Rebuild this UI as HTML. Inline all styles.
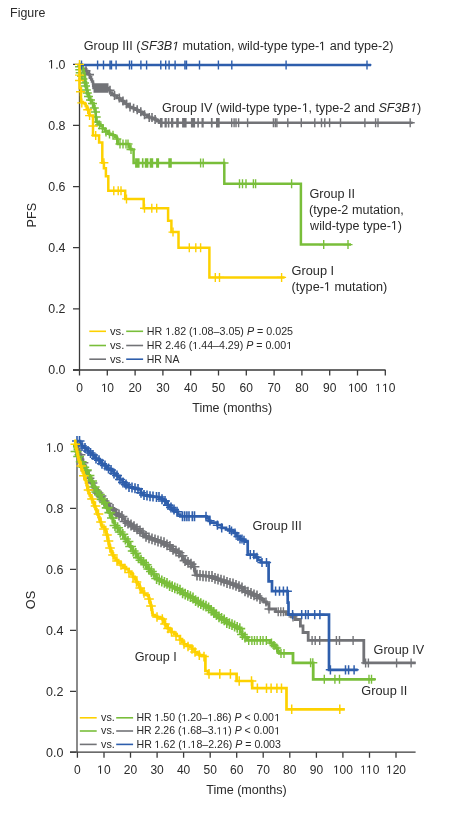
<!DOCTYPE html>
<html><head><meta charset="utf-8"><title>Figure</title>
<style>
html,body{margin:0;padding:0;background:#fff;}
body{width:461px;height:820px;overflow:hidden;font-family:"Liberation Sans",sans-serif;}
svg{display:block;will-change:transform;}
</style></head>
<body>
<svg width="461" height="820" viewBox="0 0 461 820" font-family="Liberation Sans, sans-serif">
<rect width="461" height="820" fill="#fff"/>
<g>
<g stroke="#3a3a3a" stroke-width="1.3" fill="none">
<path d="M79.5 64.3V370.6M73 370H385.6"/>
<path d="M79.5 370v5.6M107.3 370v5.6M135.1 370v5.6M162.9 370v5.6M190.7 370v5.6M218.5 370v5.6M246.3 370v5.6M274.1 370v5.6M301.9 370v5.6M329.7 370v5.6M357.5 370v5.6M385.3 370v5.6M73 370H79.5M73 308.9H79.5M73 247.7H79.5M73 186.6H79.5M73 125.4H79.5M73 64.3H79.5"/>
</g>
<path d="M79.5 64.5H81.5V66.5H82.8V68.8H85.7V70.7H87.2V72.7H88.7V74.6H89.9V77H91.1V79.5H92V81.5H93V83.4H93.2V85.7H93.5V88H107.2H108.7V90.2H110.1V92.5H112V94H114V95.5H117V98H119.5V99.5H121.9V101H123.8V102.5H125.8V104H127.8V105.5H129.7V106.9H132.6V108.3H135.5V109.8H137.5V110.8H139.5V111.8H141.9V113.2H144.3V114.7H146.8V116.2H149.2V117.6H152.1V118.6H155.1V119.6H157.1V121.2H159V122.8H412.6" fill="none" stroke="#727377" stroke-width="2.5" stroke-linejoin="miter" stroke-linecap="butt"/>
<path d="M83 64.3v9M78.5 68.8h9M86 66.2v9M81.5 70.7h9M89.5 70.1v9M85 74.6h9M110 85.8v9M105.5 90.2h9M114.5 91v9M110 95.5h9M119.3 93.5v9M114.8 98h9M123 96.5v9M118.5 101h9M126.5 99.5v9M122 104h9M130 102.4v9M125.5 106.9h9M133.6 103.8v9M129.1 108.3h9M137.2 105.3v9M132.7 109.8h9M140.8 107.3v9M136.3 111.8h9M144.5 110.2v9M140 114.7h9M149.2 113.1v9M144.7 117.6h9M152 113.1v9M147.5 117.6h9M155.1 115.1v9M150.6 119.6h9" stroke="#727377" stroke-width="1.6" fill="none"/>
<path d="M93.5 83.2h15v9.6h-15zM160 118h2.6v9.6h-2.6zM164.5 118h2.3v9.6h-2.3zM167.8 118h1.6v9.6h-1.6zM171 118h2.3v9.6h-2.3zM176.2 118h2.6v9.6h-2.6zM182.1 118h4.5v9.6h-4.5zM190.9 118h4.2v9.6h-4.2zM197.3 118h1.6v9.6h-1.6zM201.5 118h2.2v9.6h-2.2zM210.9 118h1.7v9.6h-1.7zM216 118h3.7v9.6h-3.7z" fill="#727377"/>
<path d="M231.7 118.3v9M227.2 122.8h9M234.1 118.3v9M229.6 122.8h9M236 118.3v9M231.5 122.8h9M238.6 118.3v9M234.1 122.8h9M247.6 118.3v9M243.1 122.8h9M273.4 118.3v9M268.9 122.8h9M275.3 118.3v9M270.8 122.8h9M276.9 118.3v9M272.4 122.8h9M287.8 118.3v9M283.3 122.8h9M301.3 118.3v9M296.8 122.8h9M314.8 118.3v9M310.3 122.8h9M321.5 118.3v9M317 122.8h9M324.8 118.3v9M320.3 122.8h9M329.6 118.3v9M325.1 122.8h9M340.5 118.3v9M336 122.8h9M364.9 118.3v9M360.4 122.8h9M375.6 118.3v9M371.1 122.8h9M378 118.3v9M373.5 122.8h9M410.2 118.3v9M405.7 122.8h9" stroke="#727377" stroke-width="1.4" fill="none"/>
<path d="M79.5 64.5H80.9V66H82V68H83V70H83.8V73H84.5V76H85V79H85.4V82H86V85H86.5V88H87.1V91H87.7V94H89V97H90.3V100H91.9V103H93.6V106H94.5V109H95.5V112H95.7V114.5H95.8V116.9H96V119.3H96.2V121.8H98.3V123.9H100.5V126.1H102.7V128.6H104.8V131H108.1V133.7H110.5V134.5H113V135.3H114.9V136.7H116.8V138H117.3V141H117.9V144H128.7H129.2V146.4H129.8V148.9H131.7V149.4H133.6V150V163H224.3V183.7H300.9V244.6H351" fill="none" stroke="#79BE3A" stroke-width="2.5" stroke-linejoin="miter" stroke-linecap="butt"/>
<path d="M79.5 62.3v9M75 66.8h9M79.8 65.3v9M75.3 69.8h9M80.2 68.2v9M75.7 72.7h9M81.5 71.5v9M77 76h9M83 74.5v9M78.5 79h9M84.5 78.5v9M80 83h9M85.5 81.5v9M81 86h9M86.3 85.5v9M81.8 90h9M87.3 88.5v9M82.8 93h9M88.5 92v9M84 96.5h9M90.5 95.5v9M86 100h9M92.5 99v9M88 103.5h9M94.3 103.5v9M89.8 108h9M95.5 107.5v9M91 112h9M96.2 112.5v9M91.7 117h9M97 117.5v9M92.5 122h9M99.5 120.5v9M95 125h9M102.5 124v9M98 128.5h9M106 127.5v9M101.5 132h9M109.5 129.5v9M105 134h9M113 130.8v9M108.5 135.3h9M116.8 134.5v9M112.3 139h9M120 139.5v9M115.5 144h9M123 139.5v9M118.5 144h9M126 139.5v9M121.5 144h9M128 139.5v9M123.5 144h9M131 145v9M126.5 149.5h9" stroke="#79BE3A" stroke-width="1.4" fill="none"/>
<path d="M135.1 158.3h4.5v9.4h-4.5zM141.9 158.3h1.6v9.4h-1.6zM144.8 158.3h3.6v9.4h-3.6zM149.7 158.3h3.5v9.4h-3.5zM156.1 158.3h3v9.4h-3zM168.3 158.3h3.5v9.4h-3.5z" fill="#79BE3A"/>
<path d="M200.6 158.5v9M196.1 163h9M203.2 158.5v9M198.7 163h9M224 158.5v9M219.5 163h9M239.5 179.2v9M235 183.7h9M242.5 179.2v9M238 183.7h9M246 179.2v9M241.5 183.7h9M253.4 179.2v9M248.9 183.7h9M255.6 179.2v9M251.1 183.7h9M291.6 179.2v9M287.1 183.7h9M323.7 240.1v9M319.2 244.6h9M348 240.1v9M343.5 244.6h9" stroke="#79BE3A" stroke-width="1.4" fill="none"/>
<path d="M79.5 64.9H371" fill="none" stroke="#2E5EAC" stroke-width="2.5" stroke-linejoin="miter" stroke-linecap="butt"/>
<path d="M81.5 60.4v9M77 64.9h9M97.6 60.4v9M93.1 64.9h9M103.5 60.4v9M99 64.9h9M110 60.4v9M105.5 64.9h9M111.5 60.4v9M107 64.9h9M116.1 60.4v9M111.6 64.9h9M129.5 60.4v9M125 64.9h9M131.6 60.4v9M127.1 64.9h9M140.9 60.4v9M136.4 64.9h9M146.6 60.4v9M142.1 64.9h9M160.8 60.4v9M156.3 64.9h9M165.7 60.4v9M161.2 64.9h9M169.1 60.4v9M164.6 64.9h9M175.1 60.4v9M170.6 64.9h9M184.9 60.4v9M180.4 64.9h9M186.5 60.4v9M182 64.9h9M199.5 60.4v9M195 64.9h9M218.4 60.4v9M213.9 64.9h9M231.8 60.4v9M227.3 64.9h9M286.1 60.4v9M281.6 64.9h9M367 60.4v9M362.5 64.9h9" stroke="#2E5EAC" stroke-width="1.4" fill="none"/>
<path d="M79.5 64.5V88.3H81V102H82.9V103H84.8V103.9H85.7V105.9H86.7V107.8H87.7V109.8H89.1V111.7H89.3V113.7H89.6V115.6H93V116.6V135.4H99.1V142.5H102.3V162.8H103.9V168.3H105.9V176.2H108.3V190.8H125.2V198.9H143.7V208.3H168.1V220.7H171.4V232.1H178.5V247.7H209.4V277.4H284.6" fill="none" stroke="#FDD100" stroke-width="2.5" stroke-linejoin="miter" stroke-linecap="butt"/>
<path d="M79.5 59.9v9M75 64.4h9M79.5 70.6v9M75 75.1h9M79.5 76v9M75 80.5h9M80.5 87.2v9M76 91.7h9M81.8 98.4v9M77.3 102.9h9M87.7 105.3v9M83.2 109.8h9M89.6 111.1v9M85.1 115.6h9M93 121.5v9M88.5 126h9M95.7 130.9v9M91.2 135.4h9M103.9 158.3v9M99.4 162.8h9" stroke="#FDD100" stroke-width="1.4" fill="none"/>
<path d="M113.8 186.3v9M109.3 190.8h9M118.2 186.3v9M113.7 190.8h9M121 186.3v9M116.5 190.8h9M126.5 194.4v9M122 198.9h9M144.5 203.8v9M140 208.3h9M151.8 203.8v9M147.3 208.3h9M156.7 203.8v9M152.2 208.3h9M173 227.6v9M168.5 232.1h9M189.3 243.2v9M184.8 247.7h9M195.8 243.2v9M191.3 247.7h9M200.6 243.2v9M196.1 247.7h9M215.3 272.9v9M210.8 277.4h9M219.5 272.9v9M215 277.4h9M281.6 272.9v9M277.1 277.4h9" stroke="#FDD100" stroke-width="1.4" fill="none"/>
<g fill="#2a2a2a" font-family="Liberation Sans, sans-serif">
<text x="65.5" y="374.3" font-size="12.4" text-anchor="end">0.0</text>
<text x="65.5" y="313.2" font-size="12.4" text-anchor="end">0.2</text>
<text x="65.5" y="252" font-size="12.4" text-anchor="end">0.4</text>
<text x="65.5" y="190.9" font-size="12.4" text-anchor="end">0.6</text>
<text x="65.5" y="129.7" font-size="12.4" text-anchor="end">0.8</text>
<text x="65.5" y="68.6" font-size="12.4" text-anchor="end"> .0</text>
<text x="79.5" y="392" font-size="12" text-anchor="middle">0</text>
<text x="107.3" y="392" font-size="12" text-anchor="middle"> 0</text>
<text x="135.1" y="392" font-size="12" text-anchor="middle">20</text>
<text x="162.9" y="392" font-size="12" text-anchor="middle">30</text>
<text x="190.7" y="392" font-size="12" text-anchor="middle">40</text>
<text x="218.5" y="392" font-size="12" text-anchor="middle">50</text>
<text x="246.3" y="392" font-size="12" text-anchor="middle">60</text>
<text x="274.1" y="392" font-size="12" text-anchor="middle">70</text>
<text x="301.9" y="392" font-size="12" text-anchor="middle">80</text>
<text x="329.7" y="392" font-size="12" text-anchor="middle">90</text>
<text x="357.5" y="392" font-size="12" text-anchor="middle"> 00</text>
<text x="385.3" y="392" font-size="12" text-anchor="middle">  0</text>
<text x="0" y="0" font-size="12.6" text-anchor="middle" transform="translate(35.7 215.2) rotate(-90)">PFS</text>
</g>
<path d="M89.3 331.3H106" stroke="#FDD100" stroke-width="1.6"/>
<path d="M126.2 331.3H143.1" stroke="#79BE3A" stroke-width="1.6"/>
<path d="M89.3 345.5H106" stroke="#79BE3A" stroke-width="1.6"/>
<path d="M126.2 345.5H143.1" stroke="#727377" stroke-width="1.6"/>
<path d="M89.3 359.2H106" stroke="#727377" stroke-width="1.6"/>
<path d="M126.2 359.2H143.1" stroke="#2E5EAC" stroke-width="1.6"/>
<path d="M77 447V752.2" stroke="#8a8a8a" stroke-width="2" fill="none"/>
<g stroke="#3a3a3a" stroke-width="1.3" fill="none">
<path d="M70 752.2H415.6"/>
<path d="M77.4 752.2v5.5M104 752.2v5.5M130.5 752.2v5.5M157.1 752.2v5.5M183.6 752.2v5.5M210.2 752.2v5.5M236.7 752.2v5.5M263.2 752.2v5.5M289.8 752.2v5.5M316.4 752.2v5.5M342.9 752.2v5.5M369.5 752.2v5.5M396 752.2v5.5M70 752.2H76M70 691.3H76M70 630.3H76M70 569.4H76M70 508.4H76"/>
</g>
<path d="M76 442H76.8V444.5H77.5V447H78.2V449.5H79V452H80V454.7H81V457.3H82V460H83V462.7H84V465.3H85V468H86V470.7H87V473.3H88V476H89V478.3H90V480.7H91V483H92.3V485.3H93.7V487.7H95V490H97V493H99V496H101.5V498.5H104V501H106V503.5H108V506H110V507.8H112V509.5H114V511.5H116V513.5H118V515H120V516.5H122.5V519H125V521.5H127.6V523.2H130.2V525H132.8V526.7H135.4V528.9H138V531H140.6V533.2H143.2V534.7H145.8V536.3H148.4V537.8H151V538.9H153.7V539.9H156.3V541H158.9V541.9H161.5V542.7H164.1V543.6H166.3V544.9H168.4V546.3H170.6V547.6H172.8V549.3H174.9V551.1H177.1V552.8H179.8V555.8H182.6V558.9H184.8V560.6H186.9V562.4H189.1V564.1H191.7V566.7H194.3V569.3H194.9V572.2H195.6V575.2H198V575.4H200.4V575.6H202.8V575.9H205.2V576.1H207.6V576.3H210V576.5H212.4V577.4H214.8V578.3H217.2V579.2H219.6V580.1H222V581H224.4V581.8H226.8V582.5H229.1V583.2H231.5V584H234.3V585.3H237.2V586.7H240V588H242.2V589.4H244.5V590.8H246.8V592.1H249V593.5H251.8V594.8H254.5V596H257.2V597.2H260V598.5H262V600.2H264V602H266.5V604H269V606.5V609H275.6V611.7H286V614.3H291.3V616.9H295.2V619.5H300.4V626H303V632.5H308.2V640.4H363.8V662.9H415.7" fill="none" stroke="#727377" stroke-width="2.8" stroke-linejoin="miter" stroke-linecap="butt"/>
<path d="M80 449.3v10.8M74.6 454.7h10.8M83 457.3v10.8M77.6 462.7h10.8M86 465.3v10.8M80.6 470.7h10.8M89 472.9v10.8M83.6 478.3h10.8M92 477.6v10.8M86.6 483h10.8M95 484.6v10.8M89.6 490h10.8M98 487.6v10.8M92.6 493h10.8M101 490.6v10.8M95.6 496h10.8M104 495.6v10.8M98.6 501h10.8M107 498.1v10.8M101.6 503.5h10.8M110 502.4v10.8M104.6 507.8h10.8M113 504.1v10.8M107.6 509.5h10.8M116 508.1v10.8M110.6 513.5h10.8M119 509.6v10.8M113.6 515h10.8M122 511.1v10.8M116.6 516.5h10.8M125 516.1v10.8M119.6 521.5h10.8M128 517.8v10.8M122.6 523.2h10.8M131 519.6v10.8M125.6 525h10.8M134 521.3v10.8M128.6 526.7h10.8M137 523.5v10.8M131.6 528.9h10.8M140 525.6v10.8M134.6 531h10.8M143 527.8v10.8M137.6 533.2h10.8M146 530.9v10.8M140.6 536.3h10.8M149 532.4v10.8M143.6 537.8h10.8M152 533.5v10.8M146.6 538.9h10.8M155 534.5v10.8M149.6 539.9h10.8M158 535.6v10.8M152.6 541h10.8M161 536.5v10.8M155.6 541.9h10.8M164 537.3v10.8M158.6 542.7h10.8M167 539.5v10.8M161.6 544.9h10.8M170 540.9v10.8M164.6 546.3h10.8M173 543.9v10.8M167.6 549.3h10.8M176 545.7v10.8M170.6 551.1h10.8M179 547.4v10.8M173.6 552.8h10.8M182 550.4v10.8M176.6 555.8h10.8M185 555.2v10.8M179.6 560.6h10.8M188 557v10.8M182.6 562.4h10.8M191 558.7v10.8M185.6 564.1h10.8M194 561.3v10.8M188.6 566.7h10.8M197 569.8v10.8M191.6 575.2h10.8M200 570v10.8M194.6 575.4h10.8M203 570.5v10.8M197.6 575.9h10.8M206 570.7v10.8M200.6 576.1h10.8M209 570.9v10.8M203.6 576.3h10.8M212 571.1v10.8M206.6 576.5h10.8M215 572.9v10.8M209.6 578.3h10.8M218 573.8v10.8M212.6 579.2h10.8M221 574.7v10.8M215.6 580.1h10.8M224 575.6v10.8M218.6 581h10.8M227 577.1v10.8M221.6 582.5h10.8M230 577.9v10.8M224.6 583.2h10.8M233 578.6v10.8M227.6 584h10.8M236 579.9v10.8M230.6 585.3h10.8M239 581.3v10.8M233.6 586.7h10.8M242 582.6v10.8M236.6 588h10.8M245 585.4v10.8M239.6 590.8h10.8M248 586.7v10.8M242.6 592.1h10.8M251 588.1v10.8M245.6 593.5h10.8M254 589.4v10.8M248.6 594.8h10.8M257 590.6v10.8M251.6 596h10.8M260 593.1v10.8M254.6 598.5h10.8" stroke="#727377" stroke-width="1.6" fill="none"/>
<path d="M266 597.5v9M261.5 602h9M269 604.5v9M264.5 609h9M278.2 607.2v9M273.7 611.7h9M280.8 607.2v9M276.3 611.7h9M283.4 607.2v9M278.9 611.7h9M293 612.4v9M288.5 616.9h9M312.1 635.9v9M307.6 640.4h9M315.2 635.9v9M310.7 640.4h9M319.7 635.9v9M315.2 640.4h9M336.4 635.9v9M331.9 640.4h9M339.5 635.9v9M335 640.4h9M353.1 635.9v9M348.6 640.4h9M365.6 658.4v9M361.1 662.9h9M368.4 658.4v9M363.9 662.9h9M396.6 658.4v9M392.1 662.9h9M411.1 658.4v9M406.6 662.9h9" stroke="#727377" stroke-width="1.4" fill="none"/>
<path d="M73 446H75V449H76V451.5H77V454H78V456.5H79V459H80.5V461.8H82V464.5H83.8V467.2H85.5V470H87V472.8H88.5V475.5H89.8V478.2H91V481H92.5V484H94V487H95.3V489.5H96.7V492H98V494.5H99.8V497H101.7V499.5H103.3V502.5H105V505.5H106.2V507.9H107.5V510.2H108.8V512.6H110V515H111.5V518H113V521H114V523.2H115V525.5H116V527.7H118V529.9H120V532H121.7V534.3H123.3V536.7H125V539H126.7V541.5H128.3V544H130V546.5H131.5V548.8H133V551H134.5V553.2H136V555.5H138V557.8H140V560.2H142V562.5H144.2V564.7H146.3V566.8H148.5V569H150.2V571.5H152V574H154.2V576.2H156.5V578.5H158.7V579.8H160.8V581H163V582.3H165.2V583.4H167.3V584.5H169.5V585.6H171.7V586.7H173.8V587.8H176V588.9H178.2V590.2H180.4V591.5H182.6V592.8H184.8V594.1H186.9V595.4H189.1V596.7H191.3V598H193.4V599.3H195.6V600.6H197.8V602.1H199.9V603.6H202.1V605.1H204.3V606.1H206.4V607H208.6V608H210.8V610.2H213V612.5H215.5V614.7H218V616.9H220.2V618.4H222.3V619.9H224.5V621.4H226.7V622.5H228.8V623.6H231V624.7H233.2V626H235.4V627.3H237.6V628.6H240.2V631.9H242.1V634.5H244.1V637.1H246.7V640.4H268.9H270.2V643H273.1V645.5H276V648H278V651.5H279.3V653.4H293V662.8H313.2V679.3H375.5" fill="none" stroke="#79BE3A" stroke-width="2.8" stroke-linejoin="miter" stroke-linecap="butt"/>
<path d="M76 446.1v10.8M70.6 451.5h10.8M78.6 451.1v10.8M73.2 456.5h10.8M81.2 456.4v10.8M75.8 461.8h10.8M83.8 461.9v10.8M78.4 467.2h10.8M86.4 464.6v10.8M81 470h10.8M89 470.1v10.8M83.6 475.5h10.8M91.6 475.6v10.8M86.2 481h10.8M94.2 481.6v10.8M88.8 487h10.8M96.8 486.6v10.8M91.4 492h10.8M99.4 489.1v10.8M94 494.5h10.8M102 494.1v10.8M96.6 499.5h10.8M104.6 497.1v10.8M99.2 502.5h10.8M107.2 502.5v10.8M101.8 507.9h10.8M109.8 507.2v10.8M104.4 512.6h10.8M112.4 512.6v10.8M107 518h10.8M115 520.1v10.8M109.6 525.5h10.8M117.6 522.3v10.8M112.2 527.7h10.8M120.2 526.6v10.8M114.8 532h10.8M122.8 528.9v10.8M117.4 534.3h10.8M125.4 533.6v10.8M120 539h10.8M128 536.1v10.8M122.6 541.5h10.8M130.6 541.1v10.8M125.2 546.5h10.8M133.2 545.6v10.8M127.8 551h10.8M135.8 547.9v10.8M130.4 553.2h10.8M138.4 552.4v10.8M133 557.8h10.8M141 554.8v10.8M135.6 560.2h10.8M143.6 557.1v10.8M138.2 562.5h10.8M146.2 559.3v10.8M140.8 564.7h10.8M148.8 563.6v10.8M143.4 569h10.8M151.4 566.1v10.8M146 571.5h10.8M154 568.6v10.8M148.6 574h10.8M156.6 573.1v10.8M151.2 578.5h10.8M159.2 574.4v10.8M153.8 579.8h10.8M161.8 575.6v10.8M156.4 581h10.8M164.4 576.9v10.8M159 582.3h10.8M167 578v10.8M161.6 583.4h10.8M169.6 580.2v10.8M164.2 585.6h10.8M172.2 581.3v10.8M166.8 586.7h10.8M174.8 582.4v10.8M169.4 587.8h10.8M177.4 583.5v10.8M172 588.9h10.8M180 584.8v10.8M174.6 590.2h10.8M182.6 587.4v10.8M177.2 592.8h10.8M185.2 588.7v10.8M179.8 594.1h10.8M187.8 590v10.8M182.4 595.4h10.8M190.4 591.3v10.8M185 596.7h10.8M193 592.6v10.8M187.6 598h10.8M195.6 595.2v10.8M190.2 600.6h10.8M198.2 596.7v10.8M192.8 602.1h10.8M200.8 598.2v10.8M195.4 603.6h10.8M203.4 599.7v10.8M198 605.1h10.8M206 600.7v10.8M200.6 606.1h10.8M208.6 602.6v10.8M203.2 608h10.8M211.2 604.9v10.8M205.8 610.2h10.8M213.8 607.1v10.8M208.4 612.5h10.8M216.4 609.3v10.8M211 614.7h10.8M219 611.5v10.8M213.6 616.9h10.8M221.6 613v10.8M216.2 618.4h10.8M224.2 614.5v10.8M218.8 619.9h10.8M226.8 617.1v10.8M221.4 622.5h10.8M229.4 618.2v10.8M224 623.6h10.8M232 619.3v10.8M226.6 624.7h10.8M234.6 620.6v10.8M229.2 626h10.8M237.2 621.9v10.8M231.8 627.3h10.8M239.8 623.2v10.8M234.4 628.6h10.8M242.4 629.1v10.8M237 634.5h10.8M245 631.7v10.8M239.6 637.1h10.8" stroke="#79BE3A" stroke-width="1.6" fill="none"/>
<path d="M248.7 635.9v9M244.2 640.4h9M251.9 635.9v9M247.4 640.4h9M254.5 635.9v9M250 640.4h9M257.1 635.9v9M252.6 640.4h9M260.4 635.9v9M255.9 640.4h9M263 635.9v9M258.5 640.4h9M266.3 635.9v9M261.8 640.4h9M271.5 638.5v9M267 643h9M274 641v9M269.5 645.5h9M276.7 643.5v9M272.2 648h9M281 648.9v9M276.5 653.4h9M284 648.9v9M279.5 653.4h9M310.6 658.3v9M306.1 662.8h9M312.8 658.3v9M308.3 662.8h9M324.3 674.8v9M319.8 679.3h9M334.9 674.8v9M330.4 679.3h9M339.5 674.8v9M335 679.3h9M369 674.8v9M364.5 679.3h9M371.5 674.8v9M367 679.3h9" stroke="#79BE3A" stroke-width="1.4" fill="none"/>
<path d="M76.5 441H80V444H82V446H84V448H86V449.5H88V451H90V453H92V455H94V456.8H96V458.5H98V460.2H100V462H102V463.8H104V465.5H106V467H108V468.5H110V470H112V471.5H114V473.5H116V475.5H118V477.5H120V479.5H122.6V482.4H125.2V484.6H127.8V486.9H130.4V487.5H133V488.2H135.6V488.9H138.2V489.5H140.8V492.8H143.4V495H145.6V495.4H147.8V495.9H150V496.3H152.2V496.5H154.3V496.8H156.5V497H159.1V498.1H161.7V499.3H163.6V501H165.6V502.6H167.6V505.1H169.5V507.5H172.1V509.6H174.7V511.7H178V514.5H180.4V516.3H206.5V518.2H208.7V520.8H210.4V522.6H217.4V525.2H221.7V527.8H226V529.5H230.4V531H232H233.8V533H236.5V536.5H240V539H242.6V540.4H245.1V541.7H247.7V554.7H253.8H255.5V557.3H258.1V560H260.8V562.5H268.6V581.3H272V591.2H287.7V602.6H288.5V614.6H329V669.8H357.7" fill="none" stroke="#2E5EAC" stroke-width="2.7" stroke-linejoin="miter" stroke-linecap="butt"/>
<path d="M77 436v10M72 441h10M79.5 436v10M74.5 441h10M82 441v10M77 446h10M85 443v10M80 448h10M88 446v10M83 451h10M90.5 448v10M85.5 453h10M93 450v10M88 455h10M96 453.5v10M91 458.5h10M99 455.2v10M94 460.2h10M102 458.8v10M97 463.8h10M105 460.5v10M100 465.5h10M108.5 463.5v10M103.5 468.5h10M111 465v10M106 470h10M114 468.5v10M109 473.5h10M117 470.5v10M112 475.5h10M120 474.5v10M115 479.5h10M123 477.4v10M118 482.4h10M126 479.6v10M121 484.6h10M129 481.9v10M124 486.9h10M132 482.5v10M127 487.5h10M135 483.2v10M130 488.2h10M138 483.9v10M133 488.9h10M141 487.8v10M136 492.8h10M144 490v10M139 495h10M147 490.4v10M142 495.4h10M150 491.3v10M145 496.3h10M153 491.5v10M148 496.5h10M156.5 492v10M151.5 497h10M159 492v10M154 497h10M162 494.3v10M157 499.3h10M165 496v10M160 501h10M168 500.1v10M163 505.1h10M171 502.5v10M166 507.5h10M174 504.6v10M169 509.6h10M177 506.7v10M172 511.7h10M182.5 511.3v10M177.5 516.3h10M184.7 511.3v10M179.7 516.3h10M186.9 511.3v10M181.9 516.3h10M189 511.3v10M184 516.3h10M192.3 511.3v10M187.3 516.3h10M194.5 511.3v10M189.5 516.3h10" stroke="#2E5EAC" stroke-width="1.6" fill="none"/>
<path d="M206 511.7v9.2M201.4 516.3h9.2M210 516.2v9.2M205.4 520.8h9.2M217.4 520.6v9.2M212.8 525.2h9.2M221.7 523.2v9.2M217.1 527.8h9.2M229.5 524.9v9.2M224.9 529.5h9.2M231.5 526.4v9.2M226.9 531h9.2M235 528.4v9.2M230.4 533h9.2M238 531.9v9.2M233.4 536.5h9.2M240 534.4v9.2M235.4 539h9.2M242 534.4v9.2M237.4 539h9.2M244 535.8v9.2M239.4 540.4h9.2M250.3 550.1v9.2M245.7 554.7h9.2M253.8 550.1v9.2M249.2 554.7h9.2M257 552.7v9.2M252.4 557.3h9.2M262 557.9v9.2M257.4 562.5h9.2M266.5 557.9v9.2M261.9 562.5h9.2M275.6 586.6v9.2M271 591.2h9.2M279.5 586.6v9.2M274.9 591.2h9.2M283.4 586.6v9.2M278.8 591.2h9.2M287.3 586.6v9.2M282.7 591.2h9.2M292.6 610v9.2M288 614.6h9.2M301.7 610v9.2M297.1 614.6h9.2M305.6 610v9.2M301 614.6h9.2M308.2 610v9.2M303.6 614.6h9.2M314.7 610v9.2M310.1 614.6h9.2M319.9 610v9.2M315.3 614.6h9.2M330.4 665.2v9.2M325.8 669.8h9.2M345.5 665.2v9.2M340.9 669.8h9.2M348.6 665.2v9.2M344 669.8h9.2M354.1 665.2v9.2M349.5 669.8h9.2" stroke="#2E5EAC" stroke-width="1.5" fill="none"/>
<path d="M74 441H75.3V444.3H75.9V446.9H76.4V449.4H77V452H77.5V454.5H78V457H78.5V459.5H79.2V461.7H79.8V463.8H80.5V466H81.3V468.2H82V470.3H82.8V472.5H83.7V475.2H84.5V478H85.4V480H86V482.6H86.6V485.2H87.3V487.8H87.9V490.4H88.5V493H89.7V495.3H90.8V497.7H92V500H92.9V502.2H93.8V504.5H94.6V506.8H95.5V509H96.5V511.7H97.5V514.3H98.5V517H99.4V519.5H100.2V522H101.1V524.5H102V527H105.2V530H105.9V532.2H106.5V534.3H107.2V536.5H107.7V538.8H108.2V541H108.6V543.3H109.1V545.6H110V548.2H110.8V550.8H111.7V553.4H113V555.6H114.3V557.8H115.6V560H118.2V562.6H120.8V565.2H123.4V567.2H126V569.1H128.7V571.7H131.3V574.3H133V576.9H134.8V579.5H136.5V582.1H137.7V584.4H139V586.8H140.2V589.1H142.1V591.7H144.1V594.3H146.1V595H148V595.6H148.7V598.2H149.3V600.8H150V603H150.6V605.1H151.3V607.3H151.7V609.9H152.2V612.6H152.6V615.2H154.8V616.2H157.1V617.1H159.7V618.1H162.3V619.1H163.7V621.7H165V624.3H166.3V626.2H167.6V628.2H169.6V630.2H171.5V632.1H174.1V634H176.7V636H179.9V639.2H182V641.8H184.1V644.4H187.1V645.5H190.2V646.7H192.4V649.4H194.7V652H197V653.5H199.3V655.1H202.4V655.9H205.4V656.6V671H208V673.9H236.6V681H252.2V688.2H286.5V709.3H344.8" fill="none" stroke="#FDD100" stroke-width="2.7" stroke-linejoin="miter" stroke-linecap="butt"/>
<path d="M75.3 439.5v9.6M70.5 444.3h9.6M81.2 461.2v9.6M76.4 466h9.6M83.9 471v9.6M79.1 475.8h9.6M88.5 485.2v9.6M83.7 490h9.6M92 494.2v9.6M87.2 499h9.6M95.5 501.2v9.6M90.7 506h9.6M98.5 509.2v9.6M93.7 514h9.6M101 517.2v9.6M96.2 522h9.6M104 524.2v9.6M99.2 529h9.6M107 530.2v9.6M102.2 535h9.6M108.5 536.2v9.6M103.7 541h9.6M110 543.2v9.6M105.2 548h9.6M113 550.2v9.6M108.2 555h9.6M117 556.2v9.6M112.2 561h9.6M121 560.2v9.6M116.2 565h9.6M125 563.7v9.6M120.2 568.5h9.6M129 567.7v9.6M124.2 572.5h9.6M133 572.2v9.6M128.2 577h9.6M136.5 577.2v9.6M131.7 582h9.6M140.2 583.2v9.6M135.4 588h9.6M144 588.2v9.6M139.2 593h9.6M149 594.2v9.6M144.2 599h9.6M151 601.2v9.6M146.2 606h9.6M157 612.2v9.6M152.2 617h9.6M162.3 614.3v9.6M157.5 619.1h9.6M165 619.2v9.6M160.2 624h9.6M168 623.7v9.6M163.2 628.5h9.6M171.5 627.2v9.6M166.7 632h9.6M176 631.2v9.6M171.2 636h9.6M180 635.2v9.6M175.2 640h9.6M184 639.2v9.6M179.2 644h9.6M188 641.7v9.6M183.2 646.5h9.6M192 644.2v9.6M187.2 649h9.6M195 647.2v9.6M190.2 652h9.6M199.3 650.3v9.6M194.5 655.1h9.6M204 651.8v9.6M199.2 656.6h9.6M209 669.1v9.6M204.2 673.9h9.6M219.8 669.1v9.6M215 673.9h9.6M230.4 669.1v9.6M225.6 673.9h9.6M239.2 676.2v9.6M234.4 681h9.6M251.5 676.2v9.6M246.7 681h9.6M257.4 683.4v9.6M252.6 688.2h9.6M266.5 683.4v9.6M261.7 688.2h9.6M271.1 683.4v9.6M266.3 688.2h9.6M276.9 683.4v9.6M272.1 688.2h9.6M281.5 683.4v9.6M276.7 688.2h9.6M291.7 704.5v9.6M286.9 709.3h9.6M339.8 704.5v9.6M335 709.3h9.6" stroke="#FDD100" stroke-width="1.5" fill="none"/>
<g fill="#2a2a2a" font-family="Liberation Sans, sans-serif">
<text x="63.4" y="756.6" font-size="12.5" text-anchor="end">0.0</text>
<text x="63.4" y="695.7" font-size="12.5" text-anchor="end">0.2</text>
<text x="63.4" y="634.7" font-size="12.5" text-anchor="end">0.4</text>
<text x="63.4" y="573.8" font-size="12.5" text-anchor="end">0.6</text>
<text x="63.4" y="512.8" font-size="12.5" text-anchor="end">0.8</text>
<text x="63.4" y="451.9" font-size="12.5" text-anchor="end"> .0</text>
<text x="77.4" y="773.7" font-size="12" text-anchor="middle">0</text>
<text x="104" y="773.7" font-size="12" text-anchor="middle"> 0</text>
<text x="130.5" y="773.7" font-size="12" text-anchor="middle">20</text>
<text x="157.1" y="773.7" font-size="12" text-anchor="middle">30</text>
<text x="183.6" y="773.7" font-size="12" text-anchor="middle">40</text>
<text x="210.2" y="773.7" font-size="12" text-anchor="middle">50</text>
<text x="236.7" y="773.7" font-size="12" text-anchor="middle">60</text>
<text x="263.2" y="773.7" font-size="12" text-anchor="middle">70</text>
<text x="289.8" y="773.7" font-size="12" text-anchor="middle">80</text>
<text x="316.4" y="773.7" font-size="12" text-anchor="middle">90</text>
<text x="342.9" y="773.7" font-size="12" text-anchor="middle"> 00</text>
<text x="369.5" y="773.7" font-size="12" text-anchor="middle">  0</text>
<text x="396" y="773.7" font-size="12" text-anchor="middle"> 20</text>
<text x="0" y="0" font-size="12.8" text-anchor="middle" transform="translate(35.2 599.9) rotate(-90)">OS</text>
</g>
<path d="M79.8 717.8H96.7" stroke="#FDD100" stroke-width="1.6"/>
<path d="M116.2 717.8H133.1" stroke="#79BE3A" stroke-width="1.6"/>
<path d="M79.8 731H96.7" stroke="#79BE3A" stroke-width="1.6"/>
<path d="M116.2 731H133.1" stroke="#727377" stroke-width="1.6"/>
<path d="M79.8 744.4H96.7" stroke="#727377" stroke-width="1.6"/>
<path d="M116.2 744.4H133.1" stroke="#2E5EAC" stroke-width="1.6"/>
<g fill="#2a2a2a" font-family="Liberation Sans, sans-serif">
<text x="10.1" y="16.9" font-size="12.5" text-anchor="start" textLength="35.2" lengthAdjust="spacingAndGlyphs">Figure</text>
<text x="83.8" y="50.3" font-size="12.5" text-anchor="start" textLength="309.7" lengthAdjust="spacingAndGlyphs">Group III (<tspan font-style="italic">SF3B </tspan> mutation, wild-type type-  and type-2)</text>
<text x="162" y="111.9" font-size="12.5" text-anchor="start" textLength="259.2" lengthAdjust="spacingAndGlyphs">Group IV (wild-type type- , type-2 and <tspan font-style="italic">SF3B </tspan>)</text>
<text x="309.4" y="198" font-size="12.5" text-anchor="start" textLength="45.7" lengthAdjust="spacingAndGlyphs">Group II</text>
<text x="309.1" y="213.6" font-size="12.5" text-anchor="start" textLength="94.7" lengthAdjust="spacingAndGlyphs">(type-2 mutation,</text>
<text x="310.1" y="229.7" font-size="12.5" text-anchor="start" textLength="91.9" lengthAdjust="spacingAndGlyphs">wild-type type- )</text>
<text x="291.5" y="275.1" font-size="12.5" text-anchor="start" textLength="42.6" lengthAdjust="spacingAndGlyphs">Group I</text>
<text x="291.5" y="290.8" font-size="12.5" text-anchor="start" textLength="95.8" lengthAdjust="spacingAndGlyphs">(type-  mutation)</text>
<text x="192.3" y="411.6" font-size="12.5" text-anchor="start" textLength="79.9" lengthAdjust="spacingAndGlyphs">Time (months)</text>
<text x="206.2" y="793.6" font-size="12.5" text-anchor="start" textLength="80.6" lengthAdjust="spacingAndGlyphs">Time (months)</text>
<text x="252.4" y="530.2" font-size="12.5" text-anchor="start" textLength="49.5" lengthAdjust="spacingAndGlyphs">Group III</text>
<text x="373.6" y="654.1" font-size="12.5" text-anchor="start" textLength="50.5" lengthAdjust="spacingAndGlyphs">Group IV</text>
<text x="361.3" y="694.9" font-size="12.5" text-anchor="start" textLength="46.1" lengthAdjust="spacingAndGlyphs">Group II</text>
<text x="134.7" y="660.8" font-size="12.5" text-anchor="start" textLength="42" lengthAdjust="spacingAndGlyphs">Group I</text>
<text x="146.8" y="334.9" font-size="10.3" text-anchor="start" textLength="146.3" lengthAdjust="spacingAndGlyphs">HR  .82 ( .08–3.05) <tspan font-style="italic">P</tspan> = 0.025</text>
<text x="146.8" y="349.1" font-size="10.3" text-anchor="start" textLength="145.3" lengthAdjust="spacingAndGlyphs">HR 2.46 ( .44–4.29) <tspan font-style="italic">P</tspan> = 0.00 </text>
<text x="146.8" y="362.6" font-size="10.3" text-anchor="start" textLength="32.6" lengthAdjust="spacingAndGlyphs">HR NA</text>
<text x="109.9" y="334.9" font-size="10.3" text-anchor="start" textLength="14.4" lengthAdjust="spacingAndGlyphs">vs.</text>
<text x="109.9" y="349.1" font-size="10.3" text-anchor="start" textLength="14.4" lengthAdjust="spacingAndGlyphs">vs.</text>
<text x="109.9" y="362.6" font-size="10.3" text-anchor="start" textLength="14.4" lengthAdjust="spacingAndGlyphs">vs.</text>
<text x="136.5" y="721.2" font-size="10.3" text-anchor="start" textLength="143.3" lengthAdjust="spacingAndGlyphs">HR  .50 ( .20– .86) <tspan font-style="italic">P</tspan> &lt; 0.00 </text>
<text x="136.5" y="734.4" font-size="10.3" text-anchor="start" textLength="143.5" lengthAdjust="spacingAndGlyphs">HR 2.26 ( .68–3.  ) <tspan font-style="italic">P</tspan> &lt; 0.00 </text>
<text x="136.5" y="747.9" font-size="10.3" text-anchor="start" textLength="144.4" lengthAdjust="spacingAndGlyphs">HR  .62 ( . 8–2.26) <tspan font-style="italic">P</tspan> = 0.003</text>
<text x="101" y="721.2" font-size="10.3" text-anchor="start" textLength="13.8" lengthAdjust="spacingAndGlyphs">vs.</text>
<text x="101" y="734.4" font-size="10.3" text-anchor="start" textLength="13.8" lengthAdjust="spacingAndGlyphs">vs.</text>
<text x="101" y="747.9" font-size="10.3" text-anchor="start" textLength="13.8" lengthAdjust="spacingAndGlyphs">vs.</text>
</g>
</g>
<g fill="#2a2a2a" stroke="none"><path transform="matrix(0.00606 0 0 -0.00605 47.88 68.60)" d="M515 0L515 1237L197 1010L197 1180L530 1409L696 1409L696 0Z"/><path transform="matrix(0.00587 0 0 -0.00586 100.98 392.00)" d="M515 0L515 1237L197 1010L197 1180L530 1409L696 1409L696 0Z"/><path transform="matrix(0.00587 0 0 -0.00586 347.98 392.00)" d="M515 0L515 1237L197 1010L197 1180L530 1409L696 1409L696 0Z"/><path transform="matrix(0.00509 0 0 -0.00586 375.38 392.00)" d="M515 0L515 1237L197 1010L197 1180L530 1409L696 1409L696 0Z"/><path transform="matrix(0.00587 0 0 -0.00586 381.98 392.00)" d="M515 0L515 1237L197 1010L197 1180L530 1409L696 1409L696 0Z"/><path transform="matrix(0.00610 0 0 -0.00610 45.86 451.90)" d="M515 0L515 1237L197 1010L197 1180L530 1409L696 1409L696 0Z"/><path transform="matrix(0.00587 0 0 -0.00586 96.98 773.70)" d="M515 0L515 1237L197 1010L197 1180L530 1409L696 1409L696 0Z"/><path transform="matrix(0.00587 0 0 -0.00586 332.98 773.70)" d="M515 0L515 1237L197 1010L197 1180L530 1409L696 1409L696 0Z"/><path transform="matrix(0.00509 0 0 -0.00586 360.38 773.70)" d="M515 0L515 1237L197 1010L197 1180L530 1409L696 1409L696 0Z"/><path transform="matrix(0.00587 0 0 -0.00586 365.98 773.70)" d="M515 0L515 1237L197 1010L197 1180L530 1409L696 1409L696 0Z"/><path transform="matrix(0.00587 0 0 -0.00586 385.98 773.70)" d="M515 0L515 1237L197 1010L197 1180L530 1409L696 1409L696 0Z"/><path transform="matrix(0.00617 0 0 -0.00610 172.07 50.30)" d="M412.3 0L650 1223L289 1000L324 1180L701 1409L867 1409L593.3 0Z"/><path transform="matrix(0.00617 0 0 -0.00610 318.82 50.30)" d="M515 0L515 1237L197 1010L197 1180L530 1409L696 1409L696 0Z"/><path transform="matrix(0.00617 0 0 -0.00610 301.82 111.90)" d="M515 0L515 1237L197 1010L197 1180L530 1409L696 1409L696 0Z"/><path transform="matrix(0.00617 0 0 -0.00610 409.97 111.90)" d="M412.3 0L650 1223L289 1000L324 1180L701 1409L867 1409L593.3 0Z"/><path transform="matrix(0.00613 0 0 -0.00610 390.84 229.70)" d="M515 0L515 1237L197 1010L197 1180L530 1409L696 1409L696 0Z"/><path transform="matrix(0.00620 0 0 -0.00610 323.81 290.80)" d="M515 0L515 1237L197 1010L197 1180L530 1409L696 1409L696 0Z"/><path transform="matrix(0.00525 0 0 -0.00503 165.29 334.90)" d="M515 0L515 1237L197 1010L197 1180L530 1409L696 1409L696 0Z"/><path transform="matrix(0.00524 0 0 -0.00503 192.30 334.90)" d="M515 0L515 1237L197 1010L197 1180L530 1409L696 1409L696 0Z"/><path transform="matrix(0.00520 0 0 -0.00503 192.32 349.10)" d="M515 0L515 1237L197 1010L197 1180L530 1409L696 1409L696 0Z"/><path transform="matrix(0.00522 0 0 -0.00503 286.31 349.10)" d="M515 0L515 1237L197 1010L197 1180L530 1409L696 1409L696 0Z"/><path transform="matrix(0.00515 0 0 -0.00503 154.35 721.20)" d="M515 0L515 1237L197 1010L197 1180L530 1409L696 1409L696 0Z"/><path transform="matrix(0.00513 0 0 -0.00503 181.36 721.20)" d="M515 0L515 1237L197 1010L197 1180L530 1409L696 1409L696 0Z"/><path transform="matrix(0.00513 0 0 -0.00503 207.36 721.20)" d="M515 0L515 1237L197 1010L197 1180L530 1409L696 1409L696 0Z"/><path transform="matrix(0.00515 0 0 -0.00503 274.35 721.20)" d="M515 0L515 1237L197 1010L197 1180L530 1409L696 1409L696 0Z"/><path transform="matrix(0.00517 0 0 -0.00503 181.34 734.40)" d="M515 0L515 1237L197 1010L197 1180L530 1409L696 1409L696 0Z"/><path transform="matrix(0.00449 0 0 -0.00503 216.69 734.40)" d="M515 0L515 1237L197 1010L197 1180L530 1409L696 1409L696 0Z"/><path transform="matrix(0.00517 0 0 -0.00503 222.34 734.40)" d="M515 0L515 1237L197 1010L197 1180L530 1409L696 1409L696 0Z"/><path transform="matrix(0.00518 0 0 -0.00503 274.33 734.40)" d="M515 0L515 1237L197 1010L197 1180L530 1409L696 1409L696 0Z"/><path transform="matrix(0.00519 0 0 -0.00503 154.33 747.90)" d="M515 0L515 1237L197 1010L197 1180L530 1409L696 1409L696 0Z"/><path transform="matrix(0.00517 0 0 -0.00503 181.34 747.90)" d="M515 0L515 1237L197 1010L197 1180L530 1409L696 1409L696 0Z"/><path transform="matrix(0.00519 0 0 -0.00503 190.33 747.90)" d="M515 0L515 1237L197 1010L197 1180L530 1409L696 1409L696 0Z"/></g>
</svg>
</body></html>
